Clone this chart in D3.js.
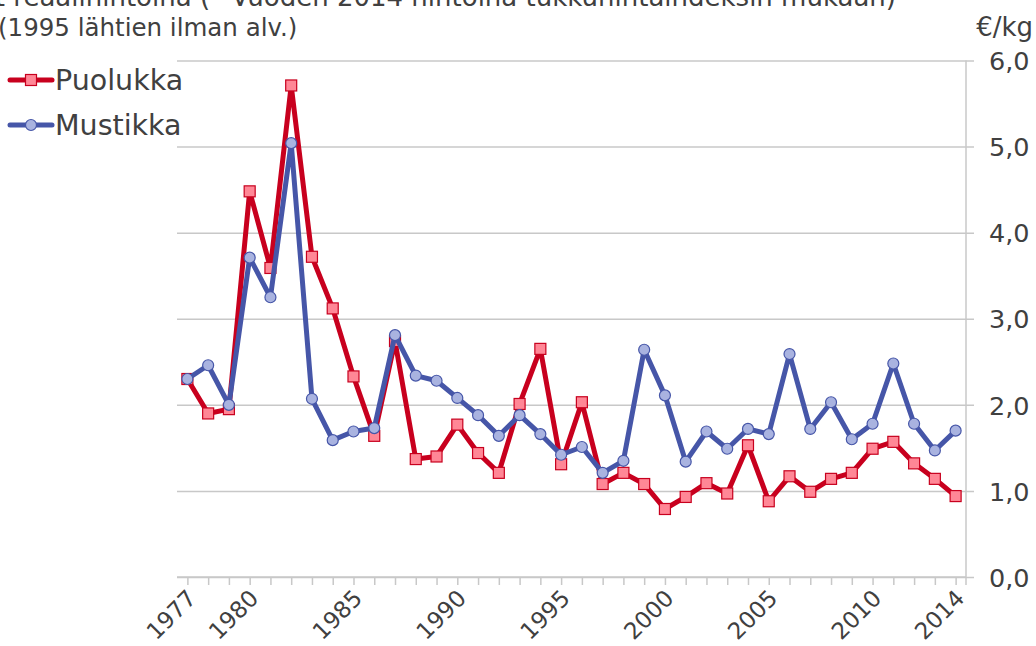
<!DOCTYPE html>
<html>
<head>
<meta charset="utf-8">
<script src="https://d3js.org/d3.v7.min.js"></script>
<style>
  body { margin: 0; background: #fff; }
  text { font-family: "DejaVu Sans", Verdana, sans-serif; fill: #404040; }
</style>
</head>
<body>
<script>

var years = d3.range(1977, 2015);
var yearLabels = [1977, 1980, 1985, 1990, 1995, 2000, 2005, 2010, 2014];
var yTicks = [0, 1, 2, 3, 4, 5, 6];

var puolukka = [2.30, 1.90, 1.95, 4.48, 3.59, 5.71, 3.72, 3.12, 2.33, 1.64,
                2.74, 1.37, 1.40, 1.77, 1.44, 1.21, 2.01, 2.65, 1.31, 2.03,
                1.08, 1.21, 1.08, 0.79, 0.93, 1.09, 0.97, 1.53, 0.88, 1.17,
                0.99, 1.14, 1.21, 1.49, 1.57, 1.32, 1.14, 0.94];
var mustikka = [2.30, 2.46, 2.00, 3.71, 3.25, 5.04, 2.07, 1.59, 1.69, 1.73,
                2.81, 2.34, 2.28, 2.08, 1.88, 1.64, 1.88, 1.66, 1.42, 1.51,
                1.21, 1.35, 2.64, 2.11, 1.34, 1.69, 1.49, 1.72, 1.66, 2.59,
                1.72, 2.03, 1.60, 1.78, 2.48, 1.78, 1.47, 1.70];

var series = [
  {name: "Puolukka", values: puolukka, line: "#c8001e", fill: "#ff8796", shape: "square"},
  {name: "Mustikka", values: mustikka, line: "#4656a8", fill: "#a9b3e0", shape: "circle"}
];

var W = 1036, H = 646;
var mLeft = 177, mRight = 966, mTop = 60.5, mBottom = 577;

var svg = d3.select("body").append("svg")
    .attr("width", W).attr("height", H);

var x = d3.scalePoint().domain(years).range([mLeft, mRight]).padding(0.5);
var y = d3.scaleLinear().domain([0, 6]).range([mBottom, mTop]);

// titles (top line is cut at the page edge)
svg.append("text")
    .attr("x", 896).attr("y", 6)
    .attr("text-anchor", "end")
    .style("font-size", "26px")
    .text("Puolukan ja mustikan tuottajahinnat reaalihintoina (* Vuoden 2014 hintoina tukkuhintaindeksin mukaan)");
svg.append("text")
    .attr("x", -2).attr("y", 36)
    .style("font-size", "24.5px")
    .text("(1995 lähtien ilman alv.)");
svg.append("text")
    .attr("x", 1033).attr("y", 36)
    .attr("text-anchor", "end")
    .style("font-size", "26px")
    .text("€/kg");

// gridlines + right axis
var yAxis = d3.axisRight(y).tickValues(yTicks)
    .tickSize(mRight - mLeft + 8)
    .tickFormat(d => d3.format(".1f")(d).replace(".", ","));

svg.append("g")
    .attr("transform", "translate(" + mLeft + ",0)")
    .call(yAxis)
    .call(g => g.select(".domain").remove())
    .call(g => g.selectAll(".tick line").attr("stroke", "#c8c8c8").attr("stroke-width", 1.5))
    .call(g => g.selectAll(".tick text")
        .attr("x", 989 - mLeft).attr("dy", "0.36em")
        .style("font-size", "25.5px").style("font-family", "DejaVu Sans, Verdana, sans-serif").attr("fill", "#404040"));

svg.append("line")
    .attr("x1", mRight).attr("x2", mRight)
    .attr("y1", mTop).attr("y2", mBottom + 8)
    .attr("stroke", "#c8c8c8").attr("stroke-width", 1.5);

// x axis
var xAxis = d3.axisBottom(x).tickSizeOuter(0).tickSize(8)
    .tickFormat(d => yearLabels.indexOf(d) >= 0 ? d : "");

svg.append("g")
    .attr("transform", "translate(0," + mBottom + ")")
    .call(xAxis)
    .call(g => g.select(".domain").remove())
    .call(g => g.selectAll(".tick line").attr("stroke", "#c8c8c8").attr("stroke-width", 1.5))
    .call(g => g.selectAll(".tick text")
        .attr("text-anchor", "end")
        .attr("transform", "translate(4,17) rotate(-45)")
        .attr("y", 0).attr("dy", "0.35em")
        .style("font-size", "23px").style("font-family", "DejaVu Sans, Verdana, sans-serif").attr("fill", "#404040"));

svg.append("line")
    .attr("x1", mLeft).attr("x2", mRight)
    .attr("y1", mBottom).attr("y2", mBottom)
    .attr("stroke", "#c8c8c8").attr("stroke-width", 1.5);

// series
var line = d3.line().x((d, i) => x(years[i])).y(d => y(d));

function marker(g, s, cx, cy) {
  if (s.shape === "square") {
    g.append("rect")
      .attr("x", cx - 5.5).attr("y", cy - 5.5)
      .attr("width", 11).attr("height", 11)
      .attr("fill", s.fill).attr("stroke", s.line).attr("stroke-width", 1.2);
  } else {
    g.append("circle")
      .attr("cx", cx).attr("cy", cy).attr("r", 5.5)
      .attr("fill", s.fill).attr("stroke", s.line).attr("stroke-width", 1.2);
  }
}

series.forEach(function(s) {
  var g = svg.append("g");
  g.append("path")
    .datum(s.values)
    .attr("d", line)
    .attr("fill", "none")
    .attr("stroke", s.line)
    .attr("stroke-width", 5)
    .attr("stroke-linejoin", "round");
  s.values.forEach((v, i) => marker(g, s, x(years[i]), y(v)));
});

// legend
series.forEach(function(s, i) {
  var ly = 80 + i * 45;
  var g = svg.append("g");
  g.append("line")
    .attr("x1", 10).attr("x2", 52).attr("y1", ly).attr("y2", ly)
    .attr("stroke", s.line).attr("stroke-width", 5).attr("stroke-linecap", "round");
  marker(g, s, 31, ly);
  g.append("text")
    .attr("x", 55).attr("y", ly).attr("dy", "0.36em")
    .style("font-size", "28.5px")
    .text(s.name);
});

</script>
</body>
</html>
